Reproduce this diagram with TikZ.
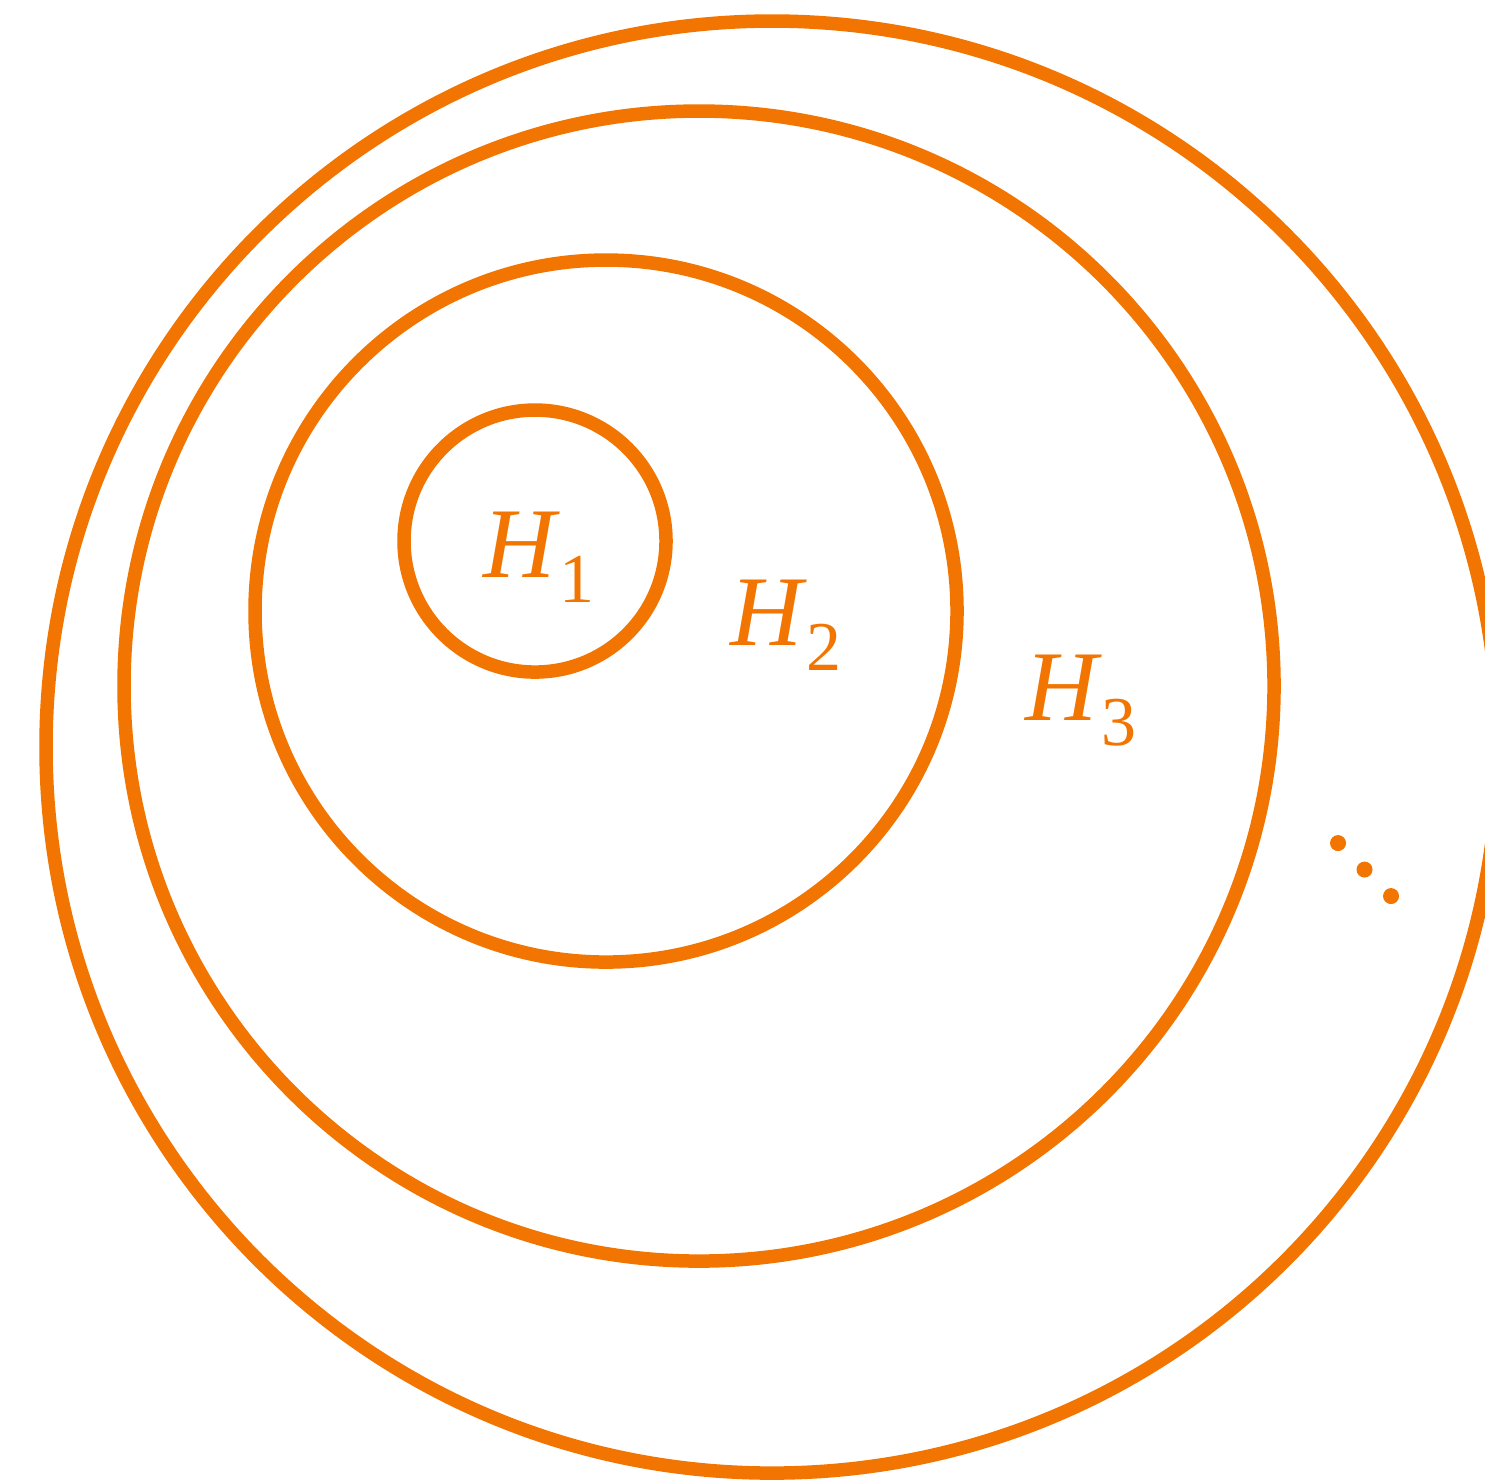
\documentclass[tikz,border=0pt]{standalone}
\usepackage{fontspec}
\setmainfont{Liberation Serif}
\usepackage{tikz}
\usetikzlibrary{positioning}
\usepackage{xcolor}
\definecolor{hor}{RGB}{241,117,0}

\newcommand{\hsp}[1]{\textit{H}\raisebox{-2.5pt}{\scriptsize #1}}

\begin{document}
\begin{tikzpicture}[x=0.1pt,y=-0.1pt,font=\normalsize,
    ring/.style={draw=hor,line width=1.35pt},
    lab/.style={text=hor,inner sep=0pt,anchor=base west}]
        \useasboundingbox (0,0) rectangle (1485,1481);
        % nested spaces
        \draw[ring] (535,541) circle [radius=131];
        \draw[ring] (606,611) circle [radius=351];
        \draw[ring] (699,686) circle [radius=575];
        \draw[ring] (772,747) circle [radius=726];
        \node[lab] (h1) at (481,577) {\hsp{1}};
        \node[lab] (h2) at (728,645) {\hsp{2}};
        \node[lab] (h3) at (1023,720) {\hsp{3}};
        % and so on
        \foreach \i in {0,1,2}
          \fill[hor] (1338+26.5*\i,843+26.5*\i) circle [radius=8];
      \end{tikzpicture}
\end{document}
